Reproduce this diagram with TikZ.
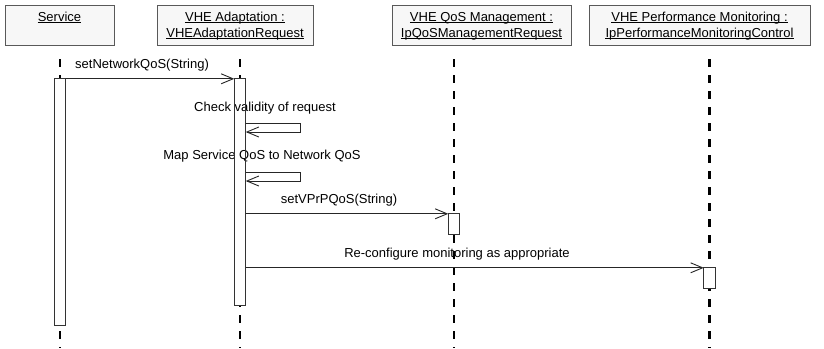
\documentclass[tikz,border=0pt]{standalone}
\usepackage{fontspec}
\setmainfont{Liberation Sans}
\usetikzlibrary{arrows.meta}
\begin{document}
\begin{tikzpicture}[x=1pt,y=-1pt,
  objbox/.style={draw=black!65, fill=black!3, line width=0.9pt, minimum height=40pt, inner sep=0pt},
  boxtext/.style={font=\fontsize{13}{16}\selectfont, inner sep=0pt, anchor=base},
  lifeline/.style={line width=2.8pt, dash pattern=on 7.5pt off 8.5pt},
  barfill/.style={fill=white, minimum width=11pt, inner sep=0pt},
  barline/.style={draw=black!80, line width=0.9pt},
  msg/.style={draw=black!85, line width=0.9pt, -{Straight Barb[length=12pt,width=10pt,line width=0.9pt]}},
  lbl/.style={font=\fontsize{13}{16}\selectfont, inner sep=0pt, anchor=base},
  uline/.style={line width=0.8pt}
]
\useasboundingbox (0,0) rectangle (824,348);

% object boxes
\node[objbox, minimum width=109pt] (svc) at (59.5,25) {};
\node[objbox, minimum width=156pt] (adp) at (235,25) {};
\node[objbox, minimum width=179pt] (qos) at (481.5,25) {};
\node[objbox, minimum width=221pt] (prf) at (699.5,25) {};

\node[boxtext] (svcA) at (59.5,21) {Service};
\node[boxtext] (adpA) at (235,21) {VHE Adaptation :};
\node[boxtext] (adpB) at (235,37) {VHEAdaptationRequest};
\node[boxtext] (qosA) at (481.5,21) {VHE QoS Management :};
\node[boxtext] (qosB) at (481.5,37) {IpQoSManagementRequest};
\node[boxtext] (prfA) at (699.5,21) {VHE Performance Monitoring :};
\node[boxtext] (prfB) at (699.5,37) {IpPerformanceMonitoringControl};
\foreach \n in {svcA,adpA,adpB,qosA,qosB,prfA,prfB}
  \draw[uline] ([yshift=-1.8pt]\n.base west) -- ([yshift=-1.8pt]\n.base east);

% lifelines
\coordinate (svcT) at (60,59);   \coordinate (svcE) at (60,348);
\coordinate (adpT) at (240,59);  \coordinate (adpE) at (240,348);
\coordinate (qosT) at (454,59);  \coordinate (qosE) at (454,348);
\coordinate (prfT) at (709.5,59); \coordinate (prfE) at (709.5,348);
\draw[lifeline] (svcT) -- (svcE);
\draw[lifeline] (adpT) -- (adpE);
\draw[lifeline] (qosT) -- (qosE);
\draw[lifeline] (prfT) -- (prfE);

% activation bars (fill)
\node[barfill, minimum height=246pt] (svcbar) at (60,202) {};
\node[barfill, minimum height=226pt] (adpbar) at (240,192) {};
\node[barfill, minimum height=20pt] (qosbar) at (454,224) {};
\node[barfill, minimum height=20pt] (prfbar) at (709.5,278) {};

% message labels
\node[lbl, anchor=base west] (m1) at (75,68) {setNetworkQoS(String)};
\node[lbl] (m2) at (265,111.5) {Check validity of request};
\node[lbl] (m3) at (262,159.5) {Map Service QoS to Network QoS};
\node[lbl] (m4) at (339,203.5) {setVPrPQoS(String)};
\node[lbl] (m5) at (457,257) {Re-configure monitoring as appropriate};

% activation bar outlines
\foreach \b in {svcbar,adpbar,qosbar,prfbar}
  \draw[barline] (\b.north west) rectangle (\b.south east);

% messages
\draw[msg] (svcbar.north east) -- (adpbar.north west);
\coordinate (l1a) at (300,123); \coordinate (l1b) at (300,132);
\draw[msg] (adpbar.east |- l1a) -- (l1a) -- (l1b) -- (adpbar.east |- l1b);
\coordinate (l2a) at (300,172); \coordinate (l2b) at (300,181);
\draw[msg] (adpbar.east |- l2a) -- (l2a) -- (l2b) -- (adpbar.east |- l2b);
\draw[msg] (adpbar.east |- qosbar.north) -- (qosbar.north west);
\draw[msg] (adpbar.east |- prfbar.north) -- (prfbar.north west);
\end{tikzpicture}
\end{document}
